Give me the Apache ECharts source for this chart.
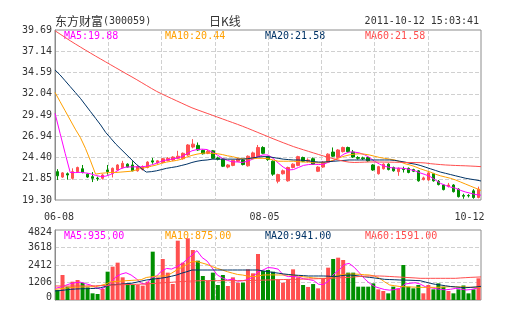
<!DOCTYPE html>
<html>
<head>
<meta charset="utf-8">
<script src="https://cdn.jsdelivr.net/npm/echarts@6/dist/echarts.min.js"></script>
<style>
  html, body { margin: 0; padding: 0; background: #fff; }
  #chart { width: 505px; height: 330px; }
</style>
</head>
<body>
<div id="chart"></div>
<script>
// 东方财富 (300059) daily K-line, 2011-06-08 .. 2011-10-12
const dates = [
  '06-08','06-09','06-10','06-13','06-14','06-15','06-16','06-17','06-20','06-21','06-22','06-23','06-24','06-27','06-28','06-29','06-30',
  '07-01','07-04','07-05','07-06','07-07','07-08','07-11','07-12','07-13','07-14','07-15','07-18','07-19','07-20','07-21','07-22','07-25','07-26','07-27','07-28','07-29',
  '08-01','08-02','08-03','08-04','08-05','08-08','08-09','08-10','08-11','08-12','08-15','08-16','08-17','08-18','08-19','08-22','08-23','08-24','08-25','08-26','08-29','08-30','08-31',
  '09-01','09-02','09-05','09-06','09-07','09-08','09-09','09-13','09-14','09-15','09-16','09-19','09-20','09-21','09-22','09-23','09-26','09-27','09-28','09-29','09-30',
  '10-10','10-11','10-12'
];
const shownDates = ['06-08', '08-05', '10-12'];

const openP = [22.70,22.05,22.45,21.90,22.70,23.05,22.40,22.10,21.92,21.90,22.90,22.50,22.90,23.20,23.60,23.50,22.80,
  22.95,23.20,24.00,23.75,23.80,24.05,24.10,24.30,24.25,24.70,25.65,25.85,25.25,24.90,25.20,24.35,24.20,23.25,23.45,23.95,24.10,
  23.40,24.35,24.50,25.60,24.50,23.95,21.55,22.45,21.60,23.20,23.45,24.40,23.95,24.25,22.75,23.25,23.85,25.05,24.40,25.10,25.60,25.05,24.40,
  24.35,24.40,23.50,22.45,23.05,23.60,23.20,22.70,23.05,23.10,22.95,22.80,21.75,21.70,22.45,21.55,21.10,20.95,21.10,20.60,19.85,
  19.85,20.40,19.60];
const closeP = [22.20,22.55,22.30,22.70,23.20,22.60,22.05,21.90,21.85,22.30,22.70,23.10,23.50,23.70,23.25,22.80,23.30,
  23.30,23.85,23.85,24.00,24.25,24.30,24.45,24.55,24.90,25.90,26.00,25.30,24.85,25.15,24.30,24.20,23.35,23.50,24.05,24.20,23.55,
  24.55,24.95,25.60,24.90,24.15,22.40,22.35,22.80,23.20,23.60,24.50,23.95,24.10,23.60,23.25,23.85,24.80,24.55,25.30,25.60,25.10,24.45,24.30,
  24.25,24.00,22.90,23.30,23.60,22.95,22.80,23.10,22.95,22.60,22.75,21.60,21.95,22.55,21.60,21.15,20.55,21.10,20.30,19.70,19.75,
  19.80,19.60,20.60];
const lowP = [21.70,21.95,21.75,21.75,22.60,22.50,21.95,21.45,21.60,21.75,22.35,22.00,22.80,23.10,23.20,22.75,22.70,
  22.85,23.10,23.65,23.65,23.70,23.95,24.00,24.20,24.15,24.60,25.50,25.20,24.75,24.80,24.20,24.05,23.25,23.10,23.35,23.85,23.45,
  23.30,24.25,24.40,24.80,24.00,22.20,21.30,22.35,21.50,23.10,23.35,23.85,23.80,23.50,22.65,23.15,23.75,24.45,24.30,25.00,25.00,24.35,24.15,
  24.10,23.90,22.80,22.35,22.95,22.85,22.70,22.20,22.60,22.50,22.65,21.50,21.65,21.60,21.50,21.05,20.45,20.80,20.20,19.60,19.45,
  19.60,19.45,19.50];
const highP = [23.00,22.65,22.60,23.10,23.30,23.50,22.50,22.65,22.10,22.40,23.50,23.20,23.60,24.00,23.70,23.95,23.45,
  23.45,23.95,24.35,24.10,24.35,24.45,24.55,25.20,25.00,26.00,26.60,26.20,25.35,25.30,25.30,24.50,24.30,23.60,24.15,24.35,24.25,
  24.65,25.10,25.90,25.75,24.60,24.05,22.45,22.95,23.30,23.70,24.60,24.50,24.30,24.40,23.35,23.95,24.90,25.60,25.40,25.70,25.70,25.30,24.55,
  24.50,24.50,23.60,23.40,23.70,23.70,23.30,23.20,23.30,23.20,23.05,22.90,22.10,22.65,22.55,21.70,21.20,21.35,21.20,20.70,20.05,
  20.00,20.60,20.90];

// moving averages of the close (the early points still carry the pre-adjustment prices)
const ma5 = [29.70,27.30,24.90,22.60,22.59,22.62,22.55,22.45,22.25,22.12,22.16,22.37,22.69,23.06,23.25,23.27,23.28,
  23.27,23.35,23.50,23.70,23.95,24.10,24.20,24.31,24.50,24.85,25.20,25.35,25.40,25.35,25.05,24.70,24.30,24.05,23.88,23.86,23.80,
  23.97,24.20,24.50,24.71,24.70,24.30,23.75,23.25,22.90,22.95,23.20,23.45,23.55,23.60,23.55,23.60,23.85,24.05,24.40,24.82,25.05,25.05,24.95,
  24.74,24.40,23.95,23.60,23.35,23.20,23.12,23.12,23.08,22.95,22.80,22.55,22.35,22.10,21.70,21.30,21.05,20.85,20.70,20.45,20.25,
  20.10,19.95,19.88];
const ma10 = [32.20,31.10,30.00,28.90,27.80,26.80,25.50,24.00,22.40,22.50,22.55,22.60,22.60,22.65,22.70,22.75,22.90,
  23.10,23.20,23.35,23.50,23.70,23.85,23.95,24.05,24.20,24.45,24.65,24.80,24.90,24.95,24.90,24.85,24.75,24.60,24.50,24.35,24.25,
  24.25,24.25,24.30,24.30,24.25,24.10,23.95,23.95,23.95,23.95,23.90,23.85,23.85,23.80,23.75,23.80,23.90,24.10,24.35,24.55,24.70,24.80,24.85,
  24.80,24.70,24.55,24.40,24.30,24.20,24.10,23.90,23.65,23.50,23.30,23.05,22.85,22.65,22.40,22.20,22.05,21.90,21.70,21.45,21.20,
  20.95,20.70,20.44];
const ma20 = [34.90,34.30,33.60,32.90,32.20,31.50,30.70,29.90,29.10,28.30,27.40,26.70,26.00,25.40,24.80,24.20,23.60,
  23.10,22.65,22.70,22.80,22.95,23.10,23.20,23.30,23.45,23.60,23.80,23.95,24.05,24.10,24.20,24.20,24.20,24.20,24.20,24.20,24.20,
  24.25,24.35,24.45,24.50,24.50,24.40,24.30,24.20,24.15,24.10,24.10,24.05,24.00,23.90,23.85,23.85,23.90,23.95,24.00,24.05,24.10,24.10,24.10,
  24.10,24.10,24.10,24.10,24.10,24.10,24.05,23.95,23.85,23.70,23.60,23.45,23.25,23.05,22.85,22.65,22.50,22.35,22.20,22.05,21.90,
  21.80,21.70,21.58];
const ma60 = [39.60,39.20,38.80,38.40,38.02,37.65,37.28,36.92,36.56,36.21,35.86,35.51,35.16,34.81,34.46,34.12,33.77,
  33.41,33.05,32.69,32.34,32.04,31.75,31.47,31.19,30.91,30.63,30.36,30.13,29.91,29.69,29.47,29.25,29.03,28.81,28.59,28.37,28.14,
  27.90,27.65,27.40,27.15,26.90,26.65,26.41,26.17,25.94,25.71,25.51,25.32,25.13,24.94,24.75,24.57,24.40,24.24,24.08,23.94,23.84,23.80,23.82,
  23.84,23.86,23.86,23.85,23.85,23.84,23.83,23.82,23.80,23.80,23.79,23.78,23.74,23.66,23.60,23.55,23.50,23.47,23.44,23.42,23.40,
  23.37,23.34,23.30];

// daily volume (lots) and its moving averages
const volume = [689,1723,919,1263,1378,1194,873,459,413,758,1952,2297,2573,1562,1148,1034,1034,
  988,1263,3331,1562,2825,1884,1103,4088,2573,4250,3446,2711,1654,1332,1884,1034,1723,965,1562,1194,1194,
  2113,1838,3170,1998,2067,1952,1424,1194,1424,2113,1562,1034,900,1100,804,1494,2228,2825,2917,2756,1884,1884,919,
  919,919,1148,735,620,459,919,804,2412,919,804,1034,459,1034,735,1148,919,620,459,735,1000,
  459,735,1494];
const volMa5 = [800,880,1000,1120,1194,1230,1125,1033,863,739,891,1176,1599,1780,1880,1723,1470,
  1153,1093,1530,1636,1994,2173,2133,2292,2495,2780,3100,3400,2927,2679,2205,1723,1525,1380,1438,1296,1328,
  1406,1580,1942,2063,2237,2205,2126,1727,1612,1621,1583,1465,1407,1342,1080,1080,1325,1790,2052,2444,2522,2256,1880,
  1478,1157,928,820,720,680,720,800,1100,1150,1190,1100,920,850,790,730,700,740,800,760,690,
  720,800,935];
const volMa10 = [735,770,810,860,880,895,905,915,920,1000,1100,1250,1280,1300,1330,1350,1370,
  1400,1550,1600,1650,1650,1660,1850,2067,2250,2450,2640,2640,2550,2450,2300,2180,2067,1950,1850,1760,1720,
  1650,1608,1650,1720,1730,1730,1725,1723,1723,1723,1650,1600,1562,1520,1494,1494,1494,1600,1723,1760,1792,1790,1770,
  1740,1723,1650,1494,1250,1034,980,930,910,900,885,873,873,873,873,880,900,919,910,900,890,
  880,878,875];
const volMa20 = [620,650,690,730,758,770,780,790,800,850,940,1034,1060,1090,1120,1148,1220,
  1300,1378,1420,1470,1510,1560,1640,1723,1850,1950,2067,2067,2067,2067,2067,2067,2067,2067,2067,2067,2067,
  2067,2067,2067,2010,1952,1900,1850,1800,1760,1723,1700,1680,1654,1654,1654,1654,1640,1608,1650,1700,1723,1700,1650,
  1600,1562,1520,1470,1424,1410,1395,1378,1370,1360,1345,1332,1240,1148,1080,1034,980,930,900,870,850,
  870,900,941];
const volMa60 = [965,965,960,960,965,970,970,975,980,990,1000,1020,1040,1050,1060,1070,1080,
  1090,1100,1130,1150,1180,1200,1220,1250,1270,1290,1310,1320,1330,1332,1332,1332,1332,1332,1332,1332,1335,
  1340,1350,1360,1370,1380,1390,1400,1410,1420,1424,1430,1440,1450,1460,1470,1480,1494,1510,1530,1550,1562,1590,1620,
  1640,1654,1654,1654,1640,1620,1600,1580,1560,1540,1520,1494,1494,1494,1494,1494,1494,1494,1494,1520,1540,
  1560,1575,1591];

// axis tick labels
const priceTicks = ['19.30','21.85','24.40','26.94','29.49','32.04','34.59','37.14','39.69'];
const volTicks = ['0','1206','2412','3618','4824'];

// header and legend texts
const stockName = '东方财富';
const stockCode = '(300059)';
const chartKind = '日K线';
const stamp = '2011-10-12 15:03:41';
const priceLegend = ['MA5:19.88', 'MA10:20.44', 'MA20:21.58', 'MA60:21.58'];
const volLegend = ['MA5:935.00', 'MA10:875.00', 'MA20:941.00', 'MA60:1591.00'];

const maColors = ['#FF00FF', '#FFA000', '#003366', '#FF4D4D'];
const UP = '#FF5050';
const DOWN = '#008F00';
const MONO = '"DejaVu Sans Mono", monospace';
const CJK = '"Noto Sans CJK SC", sans-serif';
const TEXT = '#333';
const GRIDLINE = { show: true, lineStyle: { color: '#d0d0d0', type: [4, 2], width: 1 }, showMinLine: false, showMaxLine: false };

const chart = echarts.init(document.getElementById('chart'), null, { renderer: 'canvas' });

const candles = dates.map((d, i) => [openP[i], closeP[i], lowP[i], highP[i]]);
const volBars = volume.map((v, i) => ({
  value: v,
  itemStyle: { color: closeP[i] >= openP[i] ? UP : DOWN }
}));

const priceMAs = [ma5, ma10, ma20, ma60];
const volMAs = [volMa5, volMa10, volMa20, volMa60];

function maSeries(arr, k, xIdx, yIdx) {
  return {
    type: 'line', data: arr, xAxisIndex: xIdx, yAxisIndex: yIdx,
    showSymbol: false, symbol: 'none', silent: true, z: 3,
    lineStyle: { color: maColors[k], width: 1 }
  };
}

const labelIdx = shownDates.map(d => dates.indexOf(d));
const legendX = [64, 165, 265, 365];

const graphics = [
  { type: 'text', left: 55, top: 15, style: {
      text: '{cn|' + stockName + '}{en|' + stockCode + '}',
      rich: { cn: { font: '12px ' + CJK, fill: TEXT }, en: { font: '10px ' + MONO, fill: TEXT } }
  } },
  { type: 'text', left: 209, top: 15, style: { text: chartKind, font: '12px ' + CJK, fill: TEXT } },
  { type: 'text', right: 26, top: 16, style: { text: stamp, font: '10px ' + MONO, fill: TEXT } }
];
priceLegend.forEach((t, k) => graphics.push({ type: 'text', left: legendX[k], top: 31,
  style: { text: t, font: '10px ' + MONO, fill: maColors[k] } }));
volLegend.forEach((t, k) => graphics.push({ type: 'text', left: legendX[k], top: 231,
  style: { text: t, font: '10px ' + MONO, fill: maColors[k] } }));

chart.setOption({
  animation: false,
  backgroundColor: '#fff',
  grid: [
    { left: 55, top: 30, width: 426, height: 170, show: true, borderColor: '#8c8c8c', borderWidth: 1, backgroundColor: 'transparent' },
    { left: 55, top: 230, width: 426, height: 70, show: true, borderColor: '#8c8c8c', borderWidth: 1, backgroundColor: 'transparent' }
  ],
  xAxis: [
    { type: 'category', gridIndex: 0, data: dates, boundaryGap: true, position: 'bottom',
      axisLine: { show: false }, axisTick: { show: false }, splitLine: { show: false },
      axisLabel: {
        interval: (i) => labelIdx.indexOf(i) >= 0,
        showMinLabel: true, showMaxLabel: true,
        margin: 12, color: TEXT, fontFamily: MONO, fontSize: 10,
        formatter: (v, i) => i === labelIdx[0] ? '{a|' + v + '}' : (i === labelIdx[1] ? '{b|' + v + '}' : '{c|' + v + '}'),
        rich: {
          a: { fontFamily: MONO, fontSize: 10, color: TEXT, padding: [0, 0, 0, 3] },
          b: { fontFamily: MONO, fontSize: 10, color: TEXT, padding: [0, 7, 0, 0] },
          c: { fontFamily: MONO, fontSize: 10, color: TEXT, padding: [0, 18, 0, 0] }
        }
      } },
    { type: 'category', gridIndex: 0, data: dates, boundaryGap: false, show: false, position: 'top' },
    { type: 'value', gridIndex: 0, min: 0, max: 8, interval: 1, position: 'top',
      axisLine: { show: false }, axisTick: { show: false }, axisLabel: { show: false }, splitLine: GRIDLINE },
    { type: 'category', gridIndex: 1, data: dates, boundaryGap: true, show: false, position: 'bottom' },
    { type: 'category', gridIndex: 1, data: dates, boundaryGap: false, show: false, position: 'top' },
    { type: 'value', gridIndex: 1, min: 0, max: 8, interval: 1, position: 'top',
      axisLine: { show: false }, axisTick: { show: false }, axisLabel: { show: false }, splitLine: GRIDLINE }
  ],
  yAxis: [
    { type: 'value', gridIndex: 0, min: 19.30, max: 39.69, show: false, position: 'right' },
    { type: 'value', gridIndex: 0, min: 0, max: 8, interval: 1, position: 'left',
      axisLine: { show: true, lineStyle: { color: '#8c8c8c' } }, axisTick: { show: false }, splitLine: GRIDLINE,
      axisLabel: { margin: 3, color: TEXT, fontFamily: MONO, fontSize: 10,
        formatter: (v) => priceTicks[v] } },
    { type: 'value', gridIndex: 1, min: 0, max: 4824, interval: 1206, position: 'left',
      axisLine: { show: true, lineStyle: { color: '#8c8c8c' } }, axisTick: { show: false }, splitLine: GRIDLINE,
      axisLabel: { margin: 3, color: TEXT, fontFamily: MONO, fontSize: 10,
        formatter: (v) => {
          const t = volTicks[Math.round(v / 1206)];
          if (v === 4824) return '{top|' + t + '}';
          if (v === 0) return '{bot|' + t + '}';
          return t;
        },
        rich: {
          top: { fontFamily: MONO, fontSize: 10, color: TEXT, padding: [5, 0, 0, 0] },
          bot: { fontFamily: MONO, fontSize: 10, color: TEXT, padding: [0, 0, 6, 0] }
        } } }
  ],
  graphic: graphics,
  series: [
    { type: 'candlestick', xAxisIndex: 0, yAxisIndex: 0, data: candles, barWidth: 3, silent: true, z: 2,
      itemStyle: { color: UP, color0: DOWN, borderColor: UP, borderColor0: DOWN, borderWidth: 1 } },
    ...priceMAs.map((a, k) => maSeries(a, k, 1, 0)),
    { type: 'bar', xAxisIndex: 3, yAxisIndex: 2, data: volBars, barWidth: 4, silent: true, z: 2 },
    ...volMAs.map((a, k) => maSeries(a, k, 4, 2))
  ]
});
</script>
</body>
</html>
